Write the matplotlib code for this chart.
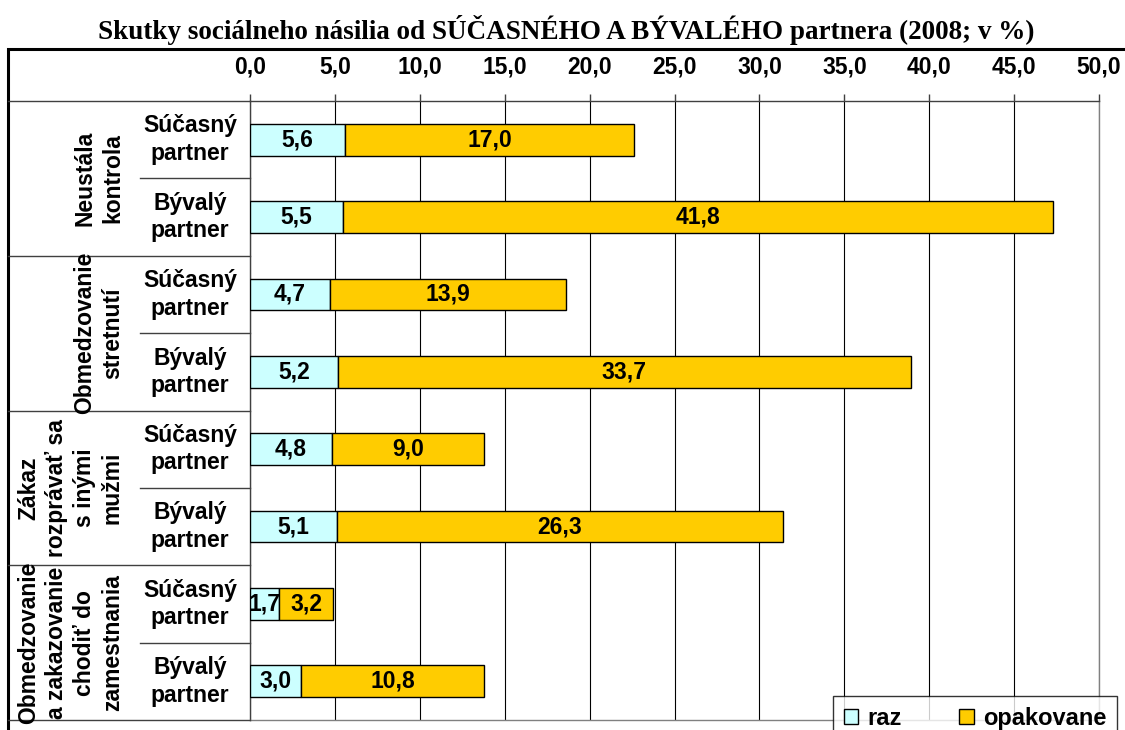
import matplotlib
matplotlib.use("Agg")
import matplotlib.pyplot as plt
from matplotlib.patches import Patch, Rectangle
from matplotlib.lines import Line2D
import matplotlib.transforms as mtransforms

plt.rcParams['font.family'] = ['Liberation Sans', 'DejaVu Sans']

title = "Skutky sociálneho násilia od SÚČASNÉHO A BÝVALÉHO partnera (2008; v %)"
groups = ["Neustála\nkontrola",
          "Obmedzovanie\nstretnutí",
          "Zákaz\nrozprávať sa\ns inými\nmužmi",
          "Obmedzovanie\na zakazovanie\nchodiť do\nzamestnania"]
subgroups = ["Súčasný\npartner", "Bývalý\npartner"]
raz = [5.6, 5.5, 4.7, 5.2, 4.8, 5.1, 1.7, 3.0]
opakovane = [17.0, 41.8, 13.9, 33.7, 9.0, 26.3, 3.2, 10.8]
series_names = ["raz", "opakovane"]
xticks = [0, 5, 10, 15, 20, 25, 30, 35, 40, 45, 50]

W, H = 1125, 730
C_RAZ = "#CCFFFF"
C_OPA = "#FFCC00"
FS = 16.5

def fx(px):
    return px / W

def fy(py):
    return 1 - py / H

fig = plt.figure(figsize=(W / 100, H / 100), dpi=100)
ax = fig.add_axes([fx(250), fy(720), fx(1099) - fx(250), fy(101) - fy(720)])

n = len(raz)
ypos = list(range(n))
bh = 0.41
ax.barh(ypos, raz, height=bh, color=C_RAZ, edgecolor="black", linewidth=1, zorder=3)
ax.barh(ypos, opakovane, left=raz, height=bh, color=C_OPA, edgecolor="black", linewidth=1, zorder=3)

def fmt(v):
    return f"{v:.1f}".replace(".", ",")

for i in range(n):
    ax.text(raz[i] / 2, i, fmt(raz[i]), ha="center", va="center",
            fontsize=FS, fontweight="bold", zorder=4)
    ax.text(raz[i] + opakovane[i] / 2, i, fmt(opakovane[i]), ha="center", va="center",
            fontsize=FS, fontweight="bold", zorder=4)

ax.set_xlim(0, 50)
ax.set_ylim(n - 0.5, -0.5)
ax.xaxis.tick_top()
ax.set_xticks(xticks)
ax.set_xticklabels([fmt(v) for v in xticks], fontsize=FS, fontweight="bold")
ax.tick_params(axis="x", direction="out", length=5, width=1, color="#404040", pad=11)
ax.set_yticks([])
ax.grid(axis="x", color="black", linewidth=0.8, zorder=0)
ax.set_axisbelow(True)
ax.spines["top"].set_color("#404040")
ax.spines["left"].set_color("#404040")
ax.spines["right"].set_color("#808080")
ax.spines["bottom"].set_color("#808080")
for s in ax.spines.values():
    s.set_linewidth(1)

# label area
trans = mtransforms.blended_transform_factory(fig.transFigure, ax.transData)
line_kw = dict(transform=trans, color="#404040", linewidth=1, clip_on=False)
fig.add_artist(Line2D([fx(8), fx(250)], [-0.5, -0.5], **line_kw))
for g in range(len(groups)):
    yb = 2 * g + 1.5
    fig.add_artist(Line2D([fx(8), fx(250)], [yb, yb], **line_kw))
    ys = 2 * g + 0.5
    fig.add_artist(Line2D([fx(140), fx(250)], [ys, ys], **line_kw))
    fig.text(fx(124), 2 * g + 0.5, groups[g], transform=trans, rotation=90,
             ha="right", va="center", multialignment="center",
             fontsize=FS, fontweight="bold", linespacing=1.27)
    for k in range(2):
        fig.text(fx(190), 2 * g + k, subgroups[k], transform=trans,
                 ha="center", va="center", multialignment="center",
                 fontsize=FS, fontweight="bold", linespacing=1.25)

# outer frame
fig.add_artist(Rectangle((fx(8), -0.05), 1.1, fy(49) + 0.05, transform=fig.transFigure,
                         fill=False, edgecolor="black", linewidth=2.2, clip_on=False))

fig.text(0.503, fy(30), title, ha="center", va="center",
         fontsize=19.5, fontweight="bold", family="Liberation Serif")

handles = [Patch(facecolor=C_RAZ, edgecolor="black"), Patch(facecolor=C_OPA, edgecolor="black")]
leg = fig.legend(handles, series_names, loc="upper left",
                 bbox_to_anchor=(fx(833), fy(740), fx(1117) - fx(833), fy(696) - fy(740)),
                 mode="expand",
                 ncol=2, frameon=True, fancybox=False, edgecolor="black",
                 prop=dict(size=17, weight="bold"), handlelength=0.6, handleheight=0.6,
                 handletextpad=0.4, columnspacing=1.5, borderpad=0.45, borderaxespad=0)
leg.get_frame().set_linewidth(1)

fig.savefig("out.png", dpi=100)
